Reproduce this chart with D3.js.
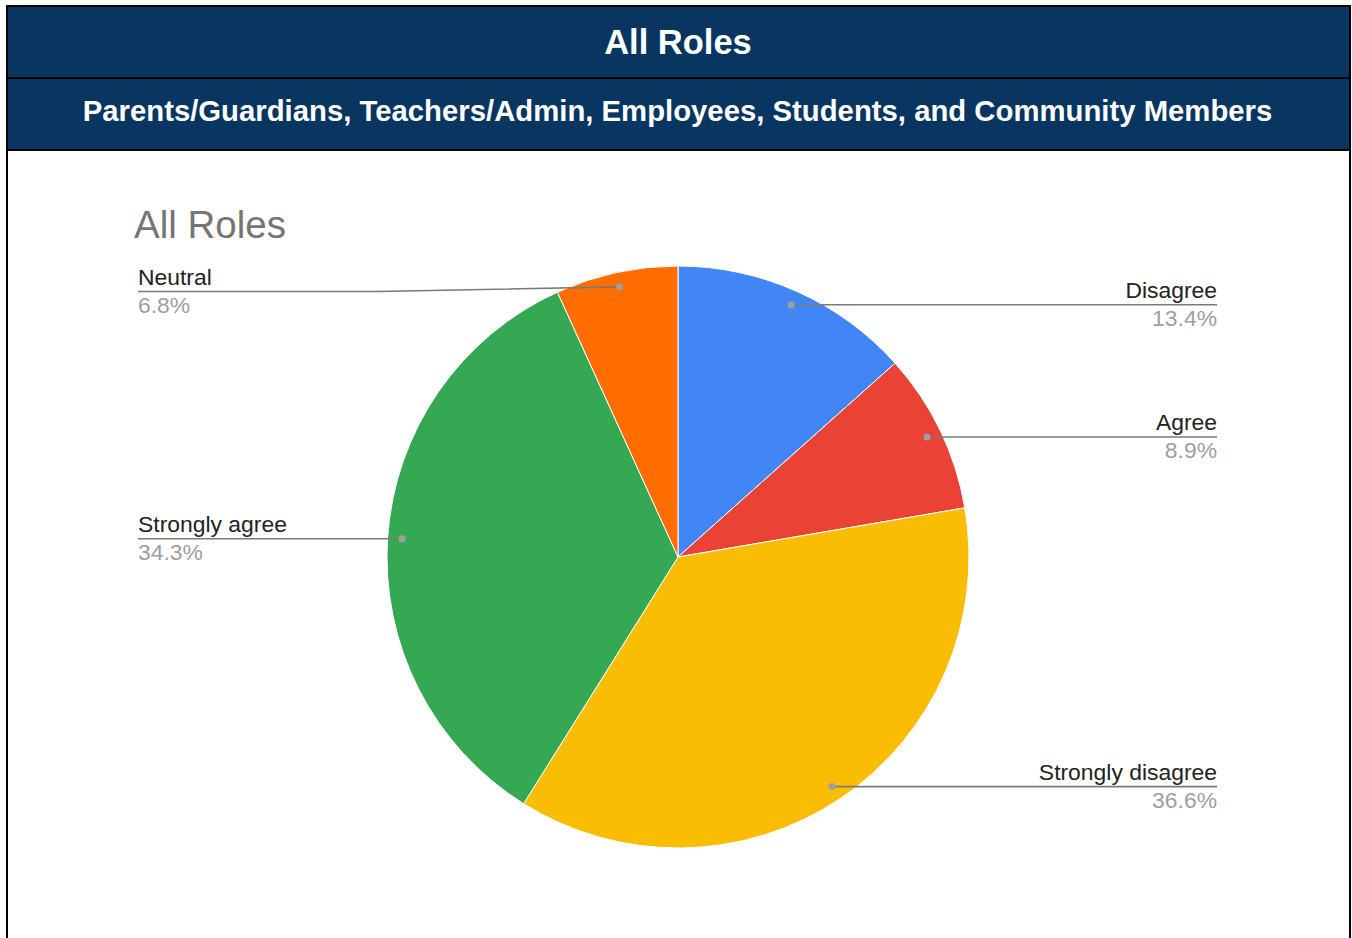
<!DOCTYPE html>
<html>
<head>
<meta charset="utf-8">
<script src="https://cdn.jsdelivr.net/npm/d3@7/dist/d3.min.js"></script>
<style>
  html, body { margin: 0; padding: 0; background: #ffffff; }
  svg { display: block; }
</style>
</head>
<body>
<svg id="chart" width="1352" height="938"></svg>
<script>
// ---- data ----
const headerTitle = "All Roles";
const headerSubtitle = "Parents/Guardians, Teachers/Admin, Employees, Students, and Community Members";
const chartTitle = "All Roles";
const categories = ["Disagree", "Agree", "Strongly disagree", "Strongly agree", "Neutral"];
const values = [13.4, 8.9, 36.6, 34.3, 6.8];
const colors = ["#4285f4", "#ea4335", "#fbbc04", "#34a853", "#ff6d01"];

const W = 1352, H = 938;
const svg = d3.select("#chart");
const font = "'Liberation Sans', Arial, sans-serif";

// ---- header ----
const navy = "#083660";
svg.append("rect").attr("x", 7).attr("y", 6).attr("width", 1343).attr("height", 144).attr("fill", navy);
[6, 78, 150].forEach(y => {
  svg.append("line").attr("x1", 6).attr("x2", 1351).attr("y1", y).attr("y2", y)
    .attr("stroke", "#000").attr("stroke-width", 2);
});
[7, 1350].forEach(x => {
  svg.append("line").attr("x1", x).attr("x2", x).attr("y1", 5).attr("y2", H)
    .attr("stroke", "#000").attr("stroke-width", 2);
});
svg.append("text").attr("x", 678).attr("y", 54).attr("text-anchor", "middle")
  .attr("font-family", font).attr("font-weight", "bold").attr("font-size", 34.5)
  .attr("fill", "#fff").text(headerTitle);
svg.append("text").attr("x", 677.5).attr("y", 121).attr("text-anchor", "middle")
  .attr("font-family", font).attr("font-weight", "bold").attr("font-size", 29.3)
  .attr("fill", "#fff").text(headerSubtitle);

// ---- chart title ----
svg.append("text").attr("x", 134).attr("y", 238)
  .attr("font-family", font).attr("font-size", 38.5).attr("fill", "#757575").text(chartTitle);

// ---- pie ----
const cx = 678, cy = 557, R = 291;
const g = svg.append("g").attr("transform", `translate(${cx},${cy})`);
const pie = d3.pie().sort(null).value(d => d.v);
const data = categories.map((c, i) => ({ c, v: values[i], col: colors[i] }));
const arcs = pie(data);
const arc = d3.arc().innerRadius(0).outerRadius(R);
const dotArc = d3.arc().innerRadius(R * 0.95).outerRadius(R * 0.95);

g.selectAll("path.slice").data(arcs).enter().append("path")
  .attr("class", "slice")
  .attr("d", arc)
  .attr("fill", d => d.data.col)
  .attr("stroke", "#fff").attr("stroke-width", 1);

// ---- labels ----
const leftX = 138, rightX = 1217;
const minLabelY = 291.5;
arcs.forEach(a => {
  const [dx, dy] = dotArc.centroid(a);
  const px = cx + dx, py = cy + dy;
  const right = px > cx;
  const ly = Math.max(py, minLabelY);
  const tx = right ? rightX : leftX;
  const anchor = right ? "end" : "start";
  let pts;
  if (Math.abs(ly - py) > 0.5) {
    const bend = right ? rightX - 240 : leftX + 240;
    pts = [[tx, ly], [bend, ly], [px, py]];
  } else {
    pts = [[tx, py], [px, py]];
  }
  svg.append("path").attr("d", d3.line()(pts))
    .attr("fill", "none").attr("stroke", "#7a7a7a").attr("stroke-width", 1.6);
  svg.append("circle").attr("cx", px).attr("cy", py).attr("r", 3.5).attr("fill", "#9e9e9e");
  svg.append("text").attr("x", tx).attr("y", ly - 7).attr("text-anchor", anchor)
    .attr("font-family", font).attr("font-size", 22.9).attr("fill", "#222").text(a.data.c);
  svg.append("text").attr("x", tx).attr("y", ly + 21).attr("text-anchor", anchor)
    .attr("font-family", font).attr("font-size", 22.9).attr("fill", "#9e9e9e")
    .text(a.data.v.toFixed(1) + "%");
});
</script>
</body>
</html>
